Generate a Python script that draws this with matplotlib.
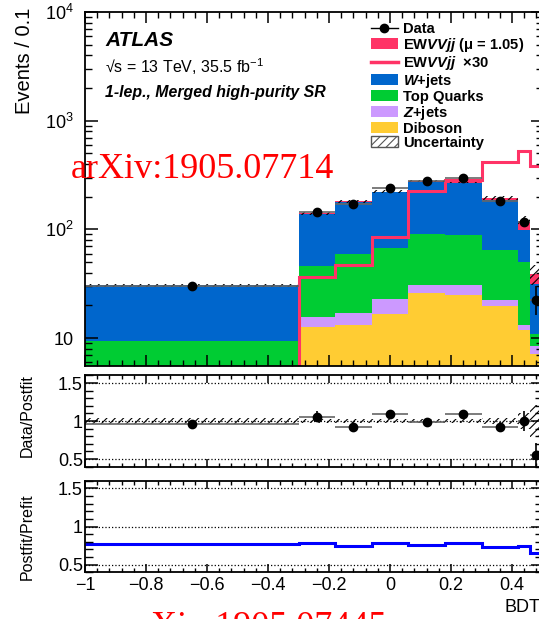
import numpy as np
import matplotlib
matplotlib.use("Agg")
import matplotlib.pyplot as plt
from matplotlib.patches import Patch
from matplotlib.lines import Line2D
from matplotlib.ticker import (MultipleLocator, FixedLocator, FixedFormatter,
                               NullFormatter, FuncFormatter)

plt.rcParams['font.family'] = ['Liberation Sans', 'DejaVu Sans']
plt.rcParams['mathtext.fontset'] = 'custom'
plt.rcParams['mathtext.rm'] = 'Liberation Sans'
plt.rcParams['mathtext.it'] = 'Liberation Sans:italic:bold'
plt.rcParams['mathtext.bf'] = 'Liberation Sans:bold'
plt.rcParams['hatch.linewidth'] = 0.8

# BDT bins
bin_edges = [-1.0, -0.3, -0.18, -0.06, 0.06, 0.18, 0.30, 0.42, 0.46, 0.50]

# stacked backgrounds (postfit), bottom to top
diboson = [1.5, 12.7, 13.1, 16.8, 26.1, 24.7, 19.8, 11.8, 7.2]
z_jets = [1.0, 3.0, 4.1, 6.0, 4.9, 5.9, 2.8, 1.4, 1.3]
top_quarks = [6.9, 30.3, 42.6, 45.1, 60.2, 57.4, 42.4, 36.8, 2.4]
w_jets = [21.2, 93.0, 120.8, 152.1, 183.8, 178.0, 120.0, 48.0, 20.9]
ewk = [0.1, 1.2, 1.6, 3.0, 5.0, 9.0, 10.0, 22.0, 7.4]
ewk_x30 = [3.0, 36.6, 46.8, 85.0, 228.0, 282.0, 414.0, 531.0, 386.0]
unc_rel = [0.035, 0.03, 0.03, 0.03, 0.025, 0.03, 0.035, 0.11, 0.21]

# data
data = [30.0, 144.0, 172.0, 241.0, 280.0, 298.0, 181.0, 116.0, 22.3]
data_err_lo = [1.5, 9.0, 10.0, 12.0, 13.0, 13.5, 10.5, 10.8, 6.0]
data_err_hi = [1.5, 9.0, 10.0, 12.0, 13.0, 13.5, 10.5, 10.8, 8.0]

# ratio panels
ratio = [0.957, 1.057, 0.925, 1.088, 0.99, 1.088, 0.925, 1.0, 0.553]
ratio_err_lo = [0.02, 0.07, 0.06, 0.055, 0.05, 0.05, 0.06, 0.13, 0.2]
ratio_err_hi = [0.02, 0.07, 0.06, 0.055, 0.05, 0.05, 0.06, 0.13, 0.16]
postfit_prefit = [0.77, 0.783, 0.738, 0.778, 0.76, 0.787, 0.735, 0.747, 0.652]

c_ewk = '#FF3366'
c_w = '#0066CC'
c_top = '#00CC33'
c_z = '#CC99FF'
c_dib = '#FFCC33'

edges = np.array(bin_edges)
widths = np.diff(edges)
centers = edges[:-1] + widths / 2

W, H = 539, 619
fig = plt.figure(figsize=(W / 100, H / 100), dpi=100)


def box(left, top, right, bottom):
    return [left / W, 1 - bottom / H, (right - left) / W, (bottom - top) / H]


ax = fig.add_axes(box(85, 12, 542.5, 365.5))
rat = fig.add_axes(box(85, 375.4, 542.5, 466.6))
pp = fig.add_axes(box(85, 480.7, 542.5, 572.3))

# --- main panel: stack
bottom = np.zeros(len(data))
for vals, col in [(diboson, c_dib), (z_jets, c_z), (top_quarks, c_top), (w_jets, c_w), (ewk, c_ewk)]:
    ax.bar(edges[:-1], vals, width=widths, bottom=bottom, align='edge', color=col, lw=0)
    bottom = bottom + np.array(vals)
total = bottom

unc = np.array(unc_rel)
ax.bar(edges[:-1], 2 * unc * total, width=widths, bottom=total * (1 - unc), align='edge',
       fill=False, hatch='////', edgecolor='black', lw=0)

ax.stairs(ewk_x30, edges, baseline=None, color=c_ewk, lw=2.2)

ax.errorbar(centers, data, xerr=widths / 2, fmt='none', ecolor='#666666', elinewidth=1.2)
ax.errorbar(centers, data, yerr=[data_err_lo, data_err_hi], fmt='o', color='black',
            ms=6, elinewidth=1.2, capsize=0)

ax.set_yscale('log')
ax.set_ylim(5.6, 1e4)
ax.yaxis.set_major_locator(FixedLocator([10, 100, 1000, 10000]))
ax.yaxis.set_major_formatter(FixedFormatter(['10', '$10^{2}$', '$10^{3}$', '$10^{4}$']))
ax.yaxis.set_minor_locator(FixedLocator([m * 10 ** d for d in range(0, 4) for m in range(2, 10)]))
ax.yaxis.set_minor_formatter(NullFormatter())

# --- data / postfit
rat.bar(edges[:-1], 2 * unc, width=widths, bottom=1 - unc, align='edge',
        fill=False, hatch='////', edgecolor='black', lw=0)
rat.errorbar(centers, ratio, xerr=widths / 2, fmt='none', ecolor='#666666', elinewidth=1.2)
rat.errorbar(centers, ratio, yerr=[ratio_err_lo, ratio_err_hi], fmt='o', color='black',
             ms=6, elinewidth=1.2, capsize=0)

# --- postfit / prefit
pp.stairs(postfit_prefit, edges, baseline=None, color='#0000FF', lw=2.2)

for a in (rat, pp):
    a.set_ylim(0.4, 1.6)
    a.yaxis.set_major_locator(FixedLocator([0.5, 1.0, 1.5]))
    a.yaxis.set_major_formatter(FixedFormatter(['0.5', '1', '1.5']))
    a.yaxis.set_minor_locator(MultipleLocator(0.1))
    for v in (0.5, 1.0, 1.5):
        a.axhline(v, ls=':', color='black', lw=0.9, zorder=0)

for a in (ax, rat, pp):
    a.set_xlim(-1, 0.5)
    a.xaxis.set_major_locator(MultipleLocator(0.2))
    a.xaxis.set_minor_locator(MultipleLocator(0.04))
    a.tick_params(which='both', direction='in', top=True, right=True, labelsize=13)
    for s in a.spines.values():
        s.set_linewidth(1.3)

pp.xaxis.set_major_formatter(FuncFormatter(lambda v, p: ('%g' % round(v, 2)).replace('-', '\u2212')))

ax.tick_params(axis='y', which='major', length=9, width=1.1, pad=8)
ax.tick_params(axis='y', which='minor', length=5, width=1.0)
ax.tick_params(axis='x', which='major', length=8, width=1.1)
ax.tick_params(axis='x', which='minor', length=4, width=1.0)
ax.tick_params(axis='x', labelbottom=False)

for a in (rat, pp):
    a.tick_params(axis='y', which='major', length=9, width=1.1, pad=1.5)
    a.tick_params(axis='y', which='minor', length=5.5, width=1.0)
    a.tick_params(axis='x', which='major', length=6, width=1.1, pad=3.5)
    a.tick_params(axis='x', which='minor', length=3, width=1.0)
rat.tick_params(axis='x', labelbottom=False)

# --- legend
handles = [
    Line2D([], [], color='black', marker='o', ms=6, lw=1),
    Patch(facecolor=c_ewk, lw=0),
    Line2D([], [], color=c_ewk, lw=2.5),
    Patch(facecolor=c_w, lw=0),
    Patch(facecolor=c_top, lw=0),
    Patch(facecolor=c_z, lw=0),
    Patch(facecolor=c_dib, lw=0),
    Patch(facecolor='white', edgecolor='#555555', hatch='////', lw=1),
]
labels = ['Data', 'EW$VVjj$ (μ = 1.05)', 'EW$VVjj$  ×30', '$W$+jets', 'Top Quarks',
          '$Z$+jets', 'Diboson', 'Uncertainty']
ax.legend(handles, labels, loc='upper left', bbox_to_anchor=(371 / W, 1 - 22 / H),
          bbox_transform=fig.transFigure, frameon=False, borderpad=0, borderaxespad=0,
          handlelength=1.8, handleheight=0.77, handletextpad=0.35, labelspacing=0.0,
          prop={'size': 10.6, 'weight': 'bold'})

# --- labels
fig.text(105 / W, 1 - 46 / H, 'ATLAS', fontsize=15, fontweight='bold', fontstyle='italic', va='baseline')
fig.text(105 / W, 1 - 73 / H, '√s = 13 TeV, 35.5 fb$^{-1}$', fontsize=11.5, va='baseline')
fig.text(105 / W, 1 - 97 / H, '1-lep., Merged high-purity SR', fontsize=11.4,
         fontweight='bold', fontstyle='italic', va='baseline')

fig.text(25 / W, 1 - 8 / H, 'Events / 0.1', rotation=90, ha='center', va='top', fontsize=14.5)
fig.text(27.5 / W, 1 - 415.5 / H, 'Data/Postfit', rotation=90, ha='center', va='center', fontsize=11.5)
fig.text(27.5 / W, 1 - 536.5 / H, 'Postfit/Prefit', rotation=90, ha='center', va='center', fontsize=11.5)
fig.text(505 / W, 1 - 607 / H, 'BDT', ha='left', va='center', fontsize=13)

# watermarks
fig.text(71 / W, 1 - 178.3 / H, 'arXiv:1905.07714', family='Liberation Serif', fontsize=26,
         color='red', va='baseline')
fig.text(124 / W, 1 - 636 / H, 'arXiv:1905.07445', family='Liberation Serif', fontsize=26,
         color='red', va='baseline')

fig.savefig('out.png', dpi=100)
